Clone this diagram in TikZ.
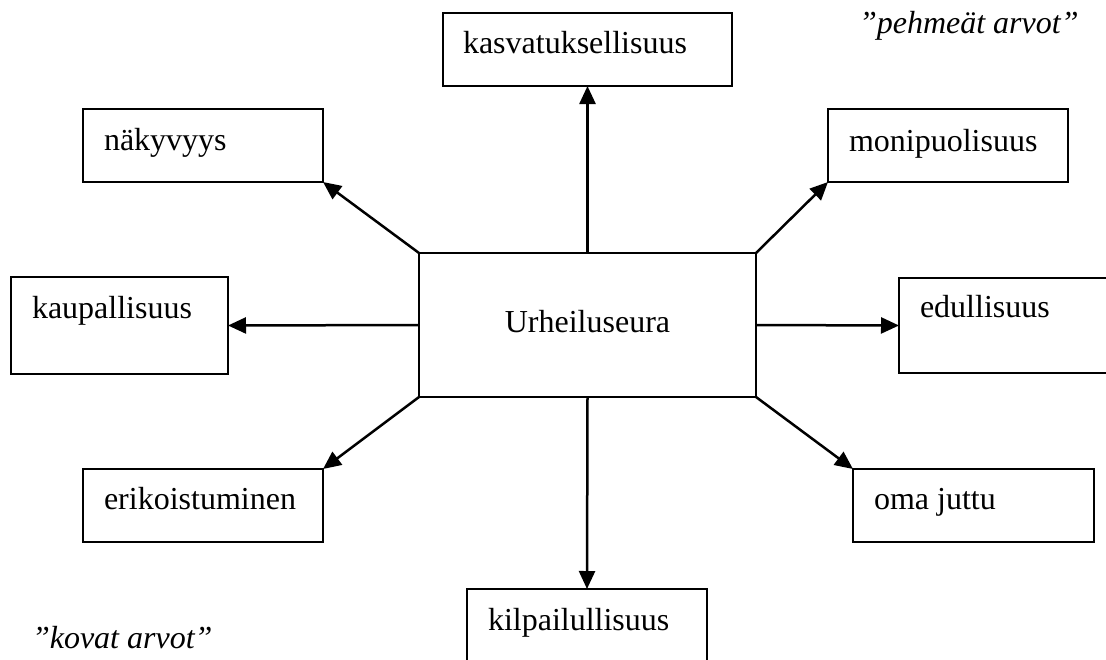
\documentclass[tikz,border=0pt]{standalone}
\usepackage{fontspec}
\setmainfont{Liberation Serif}
\usetikzlibrary{arrows.meta}
\tikzset{
  box/.style={draw=black, line width=1.8pt, rectangle, inner sep=0pt, outer sep=0pt, anchor=north west},
  lbl/.style={inner sep=0pt, outer sep=0pt, anchor=base west, font=\fontsize{32}{38}\selectfont},
  ilbl/.style={lbl, font=\fontsize{32}{38}\selectfont\itshape},
  arr/.style={line width=2.5pt, -{Triangle[length=18pt,width=16pt]}}
}
\begin{document}
\begin{tikzpicture}[x=1pt,y=-1pt]
\useasboundingbox (0,0) rectangle (1106,659);
% boxes
\node[box, minimum width=337pt, minimum height=144pt] (c) at (419,253) {};
\node[box, minimum width=289pt, minimum height=73pt] (kasv) at (443,13) {};
\node[box, minimum width=240pt, minimum height=73pt] (nak) at (83,109) {};
\node[box, minimum width=240pt, minimum height=73pt] (moni) at (828,109) {};
\node[box, minimum width=217pt, minimum height=97pt] (kaup) at (11,277) {};
\node[box, minimum width=230pt, minimum height=95pt] (edul) at (899,278) {};
\node[box, minimum width=240pt, minimum height=73pt] (erik) at (83,469) {};
\node[box, minimum width=241pt, minimum height=73pt] (oma) at (853,469) {};
\node[box, minimum width=240pt, minimum height=100pt] (kilp) at (467,589) {};
% texts
\node[lbl, anchor=base] (tc) at (587.5,332) {Urheiluseura};
\node[lbl] (tkasv) at (463,53) {kasvatuksellisuus};
\node[lbl] (tnak) at (104,150) {näkyvyys};
\node[lbl] (tmoni) at (849,151) {monipuolisuus};
\node[lbl] (tkaup) at (32,318) {kaupallisuus};
\node[lbl] (tedul) at (920,317) {edullisuus};
\node[lbl] (terik) at (104,509) {erikoistuminen};
\node[lbl] (toma) at (874,509) {oma juttu};
\node[lbl] (tkilp) at (488,630) {kilpailullisuus};
\node[ilbl] (soft) at (859,33) {”pehmeät arvot”};
\node[ilbl] (hard) at (32,648) {”kovat arvot”};
% connectors
\draw[arr] (c.north) -- (kasv.south);
\draw[arr] (c.north west) -- (nak.south east);
\draw[arr] (c.north east) -- (moni.south west);
\draw[arr] (c.west) -- (kaup.east);
\draw[arr] (c.east) -- (edul.west);
\draw[arr] (c.south west) -- (erik.north east);
\draw[arr] (c.south east) -- (oma.north west);
\draw[arr] (c.south) -- (kilp.north);
\end{tikzpicture}
\end{document}
